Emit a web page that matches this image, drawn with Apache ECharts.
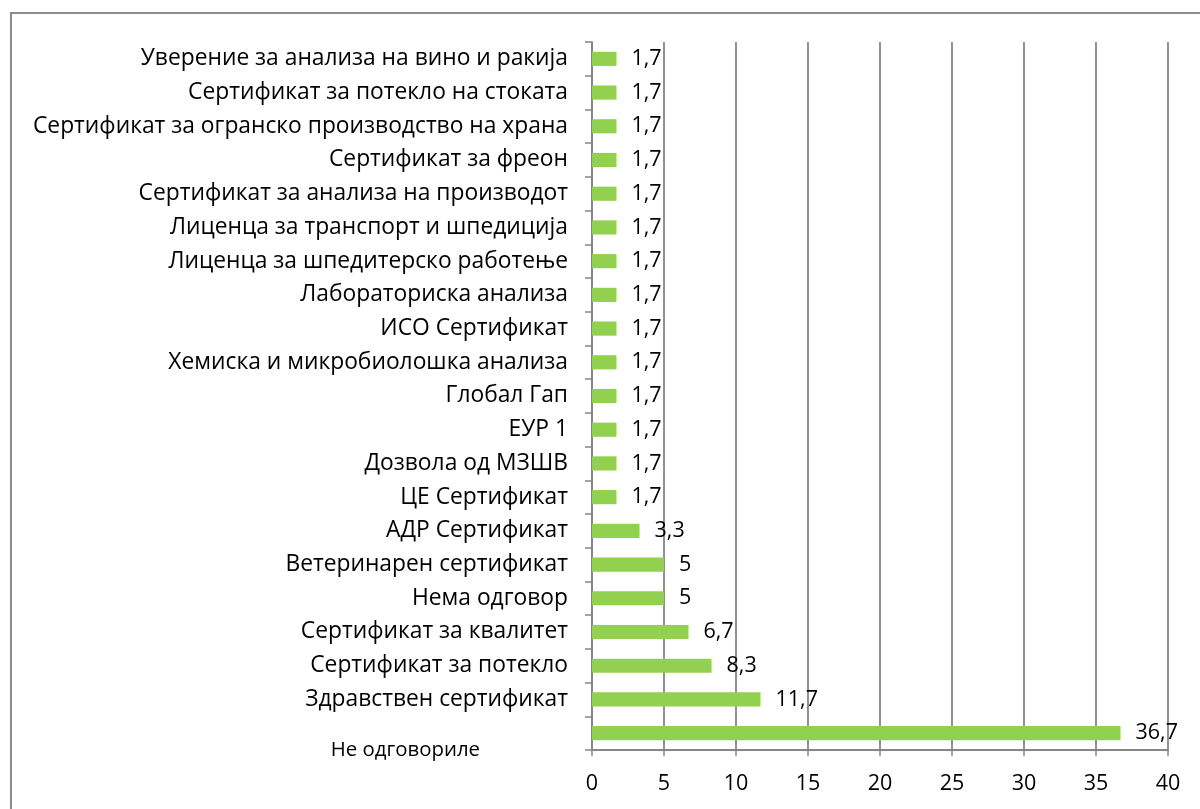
<!DOCTYPE html>
<html><head><meta charset="utf-8">
<script src="https://cdn.jsdelivr.net/npm/echarts@6/dist/echarts.min.js"></script>
<style>
html,body{margin:0;padding:0;background:#fff;overflow:hidden;}
#frame{position:absolute;left:10px;top:12px;width:1220px;height:840px;border:2px solid #8c8c8c;box-sizing:border-box;}
#chart{position:absolute;left:0;top:0;width:1200px;height:809px;}
</style></head>
<body>
<div id="frame"></div>
<div id="chart"></div>
<script>
const categories = [
  "Не одговориле",
  "Здравствен сертификат",
  "Сертификат за потекло",
  "Сертификат за квалитет",
  "Нема одговор",
  "Ветеринарен сертификат",
  "АДР Сертификат",
  "ЦЕ Сертификат",
  "Дозвола од МЗШВ",
  "ЕУР 1",
  "Глобал Гап",
  "Хемиска и микробиолошка анализа",
  "ИСО Сертификат",
  "Лабораториска анализа",
  "Лиценца за шпедитерско работење",
  "Лиценца за транспорт и шпедиција",
  "Сертификат за анализа на производот",
  "Сертификат за фреон",
  "Сертификат за огранско производство на храна",
  "Сертификат за потекло на стоката",
  "Уверение за анализа на вино и ракија"
];
const values = [36.7, 11.7, 8.3, 6.7, 5, 5, 3.3, 1.7, 1.7, 1.7, 1.7, 1.7, 1.7, 1.7, 1.7, 1.7, 1.7, 1.7, 1.7, 1.7, 1.7];
const xTicks = [0, 5, 10, 15, 20, 25, 30, 35, 40];

const FONT = "Open Sans";
const chart = echarts.init(document.getElementById('chart'), null, {renderer: 'canvas'});
chart.setOption({
  animation: false,
  backgroundColor: 'transparent',
  grid: {left: 592, right: 32, top: 42, bottom: 59, containLabel: false},
  xAxis: {
    type: 'value', min: xTicks[0], max: xTicks[xTicks.length - 1], interval: 5,
    axisLine: {show: true, lineStyle: {color: '#868686', width: 1.8}},
    axisTick: {show: true, length: 6, lineStyle: {color: '#868686', width: 1.5}},
    splitLine: {show: true, lineStyle: {color: '#868686', width: 1.8}},
    axisLabel: {color: '#000', fontFamily: FONT, fontSize: 21.5, margin: 23,
      formatter: v => String(v)}
  },
  yAxis: {
    type: 'category', data: categories,
    axisLine: {show: true, lineStyle: {color: '#868686', width: 1.8}},
    axisTick: {show: true, inside: false, length: 7, alignWithLabel: false, lineStyle: {color: '#868686', width: 1.5}},
    splitLine: {show: false},
    axisLabel: {
      color: '#000', fontFamily: FONT, fontSize: 22.8, margin: 24,
      formatter: (v, i) => i === 0 ? '{small|' + v + '}' : v,
      rich: {small: {fontFamily: FONT, fontSize: 20.4, color: '#000', padding: [34, 88, 0, 0]}}
    }
  },
  series: [{
    type: 'bar', data: values, barWidth: '42%',
    itemStyle: {color: '#92D050'},
    label: {show: true, position: 'right', distance: 15, color: '#000', fontFamily: FONT, fontSize: 21.5,
      formatter: p => String(p.value).replace('.', ',')}
  }]
});
</script>
</body></html>
